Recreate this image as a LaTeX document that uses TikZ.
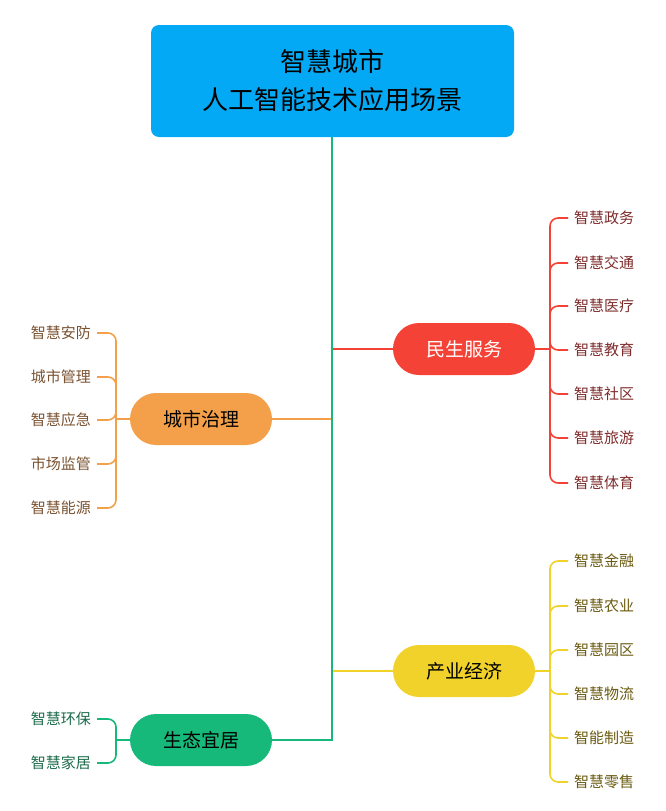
\documentclass[tikz,border=0pt]{standalone}
\usepackage{fontspec}
\newfontfamily\cjk{Noto Sans CJK SC}
\definecolor{cblue}{HTML}{03A9F4}
\definecolor{cred}{HTML}{F44336}
\definecolor{corange}{HTML}{F4A04A}
\definecolor{cyellow}{HTML}{F0D22A}
\definecolor{cgreen}{HTML}{17B97A}
\definecolor{tred}{HTML}{7E2B2B}
\definecolor{torange}{HTML}{7A5230}
\definecolor{tyellow}{HTML}{6B5A10}
\definecolor{tgreen}{HTML}{1C6B4A}
\begin{document}
\begin{tikzpicture}[x=1pt,y=-1pt,
  pill/.style={rounded corners=26pt,minimum width=142pt,minimum height=52pt,inner sep=0pt,font=\cjk\fontsize{19}{19}\selectfont},
  item/.style={inner sep=0pt,font=\cjk\fontsize{15}{15}\selectfont},
  ln/.style={line width=2pt},
  br/.style={line width=1.6pt,rounded corners=8pt}]
\useasboundingbox (0,0) rectangle (665,811);
\node[fill=cblue,rounded corners=8pt,minimum width=363pt,minimum height=112pt,align=center,font=\cjk\fontsize{26}{38}\selectfont] (title) at (332.5,81) {智慧城市\\人工智能技术应用场景};
\node[pill,fill=cred,text=white] (ms) at (464,349) {民生服务};
\node[pill,fill=corange] (cs) at (201,419) {城市治理};
\node[pill,fill=cyellow] (cy) at (464,671) {产业经济};
\node[pill,fill=cgreen] (st) at (201,740) {生态宜居};
\coordinate (t1) at (332,349);
\coordinate (t2) at (332,419);
\coordinate (t3) at (332,671);
\coordinate (t4) at (332,740);
\draw[ln,cred] (t1) -- (ms.west);
\draw[ln,corange] (t2) -- (cs.east);
\draw[ln,cyellow] (t3) -- (cy.west);
\draw[ln,cgreen] (title.south -| t1) -- (t4) -- (st.east);
% red items
\coordinate (jr) at (550,349);
\draw[ln,cred] (ms.east) -- (jr);
\foreach \t/\y [count=\i] in {智慧政务/218,智慧交通/263,智慧医疗/306,智慧教育/350,智慧社区/394,智慧旅游/438,智慧体育/483}{
  \node[item,text=tred,anchor=west] (r\i) at (574,\y) {\t};
  \draw[br,cred] (jr) |- ([xshift=-6pt]r\i.west);
}
% yellow items
\coordinate (jy) at (550,671);
\draw[ln,cyellow] (cy.east) -- (jy);
\foreach \t/\y [count=\i] in {智慧金融/561,智慧农业/606,智慧园区/650,智慧物流/694,智能制造/738,智慧零售/782}{
  \node[item,text=tyellow,anchor=west] (y\i) at (574,\y) {\t};
  \draw[br,cyellow] (jy) |- ([xshift=-6pt]y\i.west);
}
% orange items
\coordinate (jo) at (116,419);
\draw[ln,corange] (cs.west) -- (jo);
\foreach \t/\y [count=\i] in {智慧安防/333,城市管理/377,智慧应急/420,市场监管/464,智慧能源/508}{
  \node[item,text=torange,anchor=east] (o\i) at (91,\y) {\t};
  \draw[br,corange] (jo) |- ([xshift=6pt]o\i.east);
}
% green items
\coordinate (jg) at (116,740);
\draw[ln,cgreen] (st.west) -- (jg);
\foreach \t/\y [count=\i] in {智慧环保/719,智慧家居/763}{
  \node[item,text=tgreen,anchor=east] (g\i) at (91,\y) {\t};
  \draw[br,cgreen] (jg) |- ([xshift=6pt]g\i.east);
}
\end{tikzpicture}
\end{document}
